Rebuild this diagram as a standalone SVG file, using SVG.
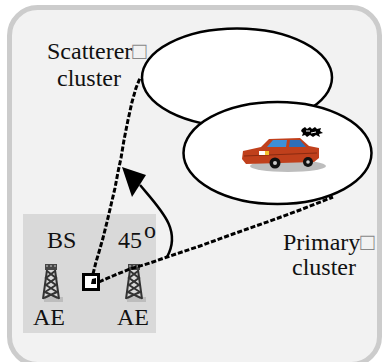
<svg xmlns="http://www.w3.org/2000/svg" width="382" height="362" viewBox="0 0 382 362">
  <style>
    .lbl { font-family: "Liberation Serif", "Times New Roman", serif; font-size: 24px; fill: #111; }
    .miss { fill: #888; }
    .cluster { fill: #fff; stroke: #000; stroke-width: 2.5; }
    .ray { fill: none; stroke: #000; stroke-width: 3; stroke-dasharray: 5 2; stroke-linejoin: round; }
    .twr { stroke: #333; stroke-width: 2; fill: none; }
  </style>
  <defs>
    <!-- lattice antenna tower, origin at top-left of its box -->
    <g id="tower">
      <rect x="1" y="33" width="19" height="5" fill="#bdbdbd"/>
      <rect x="2" y="0" width="12" height="6" fill="#454545"/>
      <rect x="3" y="1" width="2" height="2" fill="#888"/>
      <rect x="7" y="1" width="2" height="2" fill="#888"/>
      <rect x="11" y="1" width="2" height="2" fill="#888"/>
      <path class="twr" d="M4,6 L0,35 M12,6 L16,35"/>
      <path class="twr" d="M4,7 L13,14 L3,21 L14,28 L1,34 M12,7 L3,14 L13,21 L2,28 L15,34"/>
    </g>
  </defs>

  <!-- frame -->
  <rect x="9.5" y="7.5" width="370" height="357" rx="28" fill="#f2f2f2" stroke="#cccccc" stroke-width="5"/>

  <!-- base station area -->
  <g id="bs">
    <rect x="23" y="214" width="133" height="119" fill="#d9d9d9"/>
    <text class="lbl" x="47" y="248">BS</text>
    <text class="lbl" x="118" y="248">45<tspan dx="2" dy="-10">o</tspan></text>
  </g>

  <g id="ae-left">
    <use href="#tower" x="43" y="264"/>
    <text class="lbl" x="33" y="325">AE</text>
  </g>
  <g id="ae-right">
    <use href="#tower" x="126" y="264"/>
    <text class="lbl" x="117" y="325">AE</text>
  </g>

  <!-- scatterer cluster -->
  <g id="scatterer">
    <ellipse class="cluster" cx="237" cy="77.5" rx="95" ry="49"/>
    <text class="lbl" x="47" y="59">Scatterer<tspan class="miss">□</tspan></text>
    <text class="lbl" x="57" y="86">cluster</text>
  </g>

  <!-- primary cluster with the vehicle -->
  <g id="primary">
    <ellipse class="cluster" cx="277.5" cy="153" rx="94" ry="51"/>
    <!-- car -->
    <ellipse cx="288" cy="166" rx="38" ry="6" fill="#bdbdbd"/>
    <path d="M243,151 L261,147 L269,139 L300,138 L309,146 L319,148 L319,158 L314,162 L246,164 L242,159 Z" fill="#c0401c"/>
    <path d="M267,147 L273,140 L287,140 L286,147 Z" fill="#3d8fd8"/>
    <path d="M289,147 L290,140 L300,140 L306,147 Z" fill="#2e6fb8"/>
    <path d="M244,156 L317,153" stroke="#8a2a10" stroke-width="1"/>
    <rect x="259" y="151" width="6" height="4" fill="#fff"/>
    <rect x="265" y="151" width="4" height="4" fill="#f4c430"/>
    <circle cx="275" cy="163" r="5.5" fill="#111"/>
    <circle cx="275" cy="163" r="2" fill="#ccc"/>
    <circle cx="308" cy="162" r="5" fill="#111"/>
    <circle cx="308" cy="162" r="1.8" fill="#ccc"/>
    <!-- horn burst -->
    <path d="M302,129 L305,127 L307,129 L310,127 L312,129 L315,127 L317,129 L321,128 L320,131 L323,133 L319,134 L320,137 L316,135 L313,137 L310,135 L307,137 L305,135 L302,136 L303,133 L301,131 Z" fill="#000"/>
    <path d="M306,131 L310,131 M311,133 L316,132" stroke="#fff" stroke-width="1"/>
    <text class="lbl" x="283" y="250">Primary<tspan class="miss">□</tspan></text>
    <text class="lbl" x="292" y="275">cluster</text>
  </g>

  <!-- propagation paths and angle arrow -->
  <g id="connectors">
    <polyline class="ray" points="93,274 96,262 99,252 103,238 107,222 111,205 115,188 118,172 121,158 124,140 128,120 132,102 136,88 140,78"/>
    <polyline class="ray" points="99,282 115,275 130,269 150,263 167,257 200,246 233,234 270,221 300,210 333,197"/>
    <path d="M167,257 C182,230 161,210 140,185" fill="none" stroke="#000" stroke-width="2.5"/>
    <polygon points="122,167 146,175 132,197" fill="#000"/>
  </g>

  <!-- antenna element at the base station -->
  <g id="array">
    <rect x="83.5" y="274.5" width="15" height="15" fill="#fff" stroke="#000" stroke-width="3"/>
    <path d="M92,279 L96,278 L96,284 L91,284 Z" fill="#000"/>
  </g>
</svg>
